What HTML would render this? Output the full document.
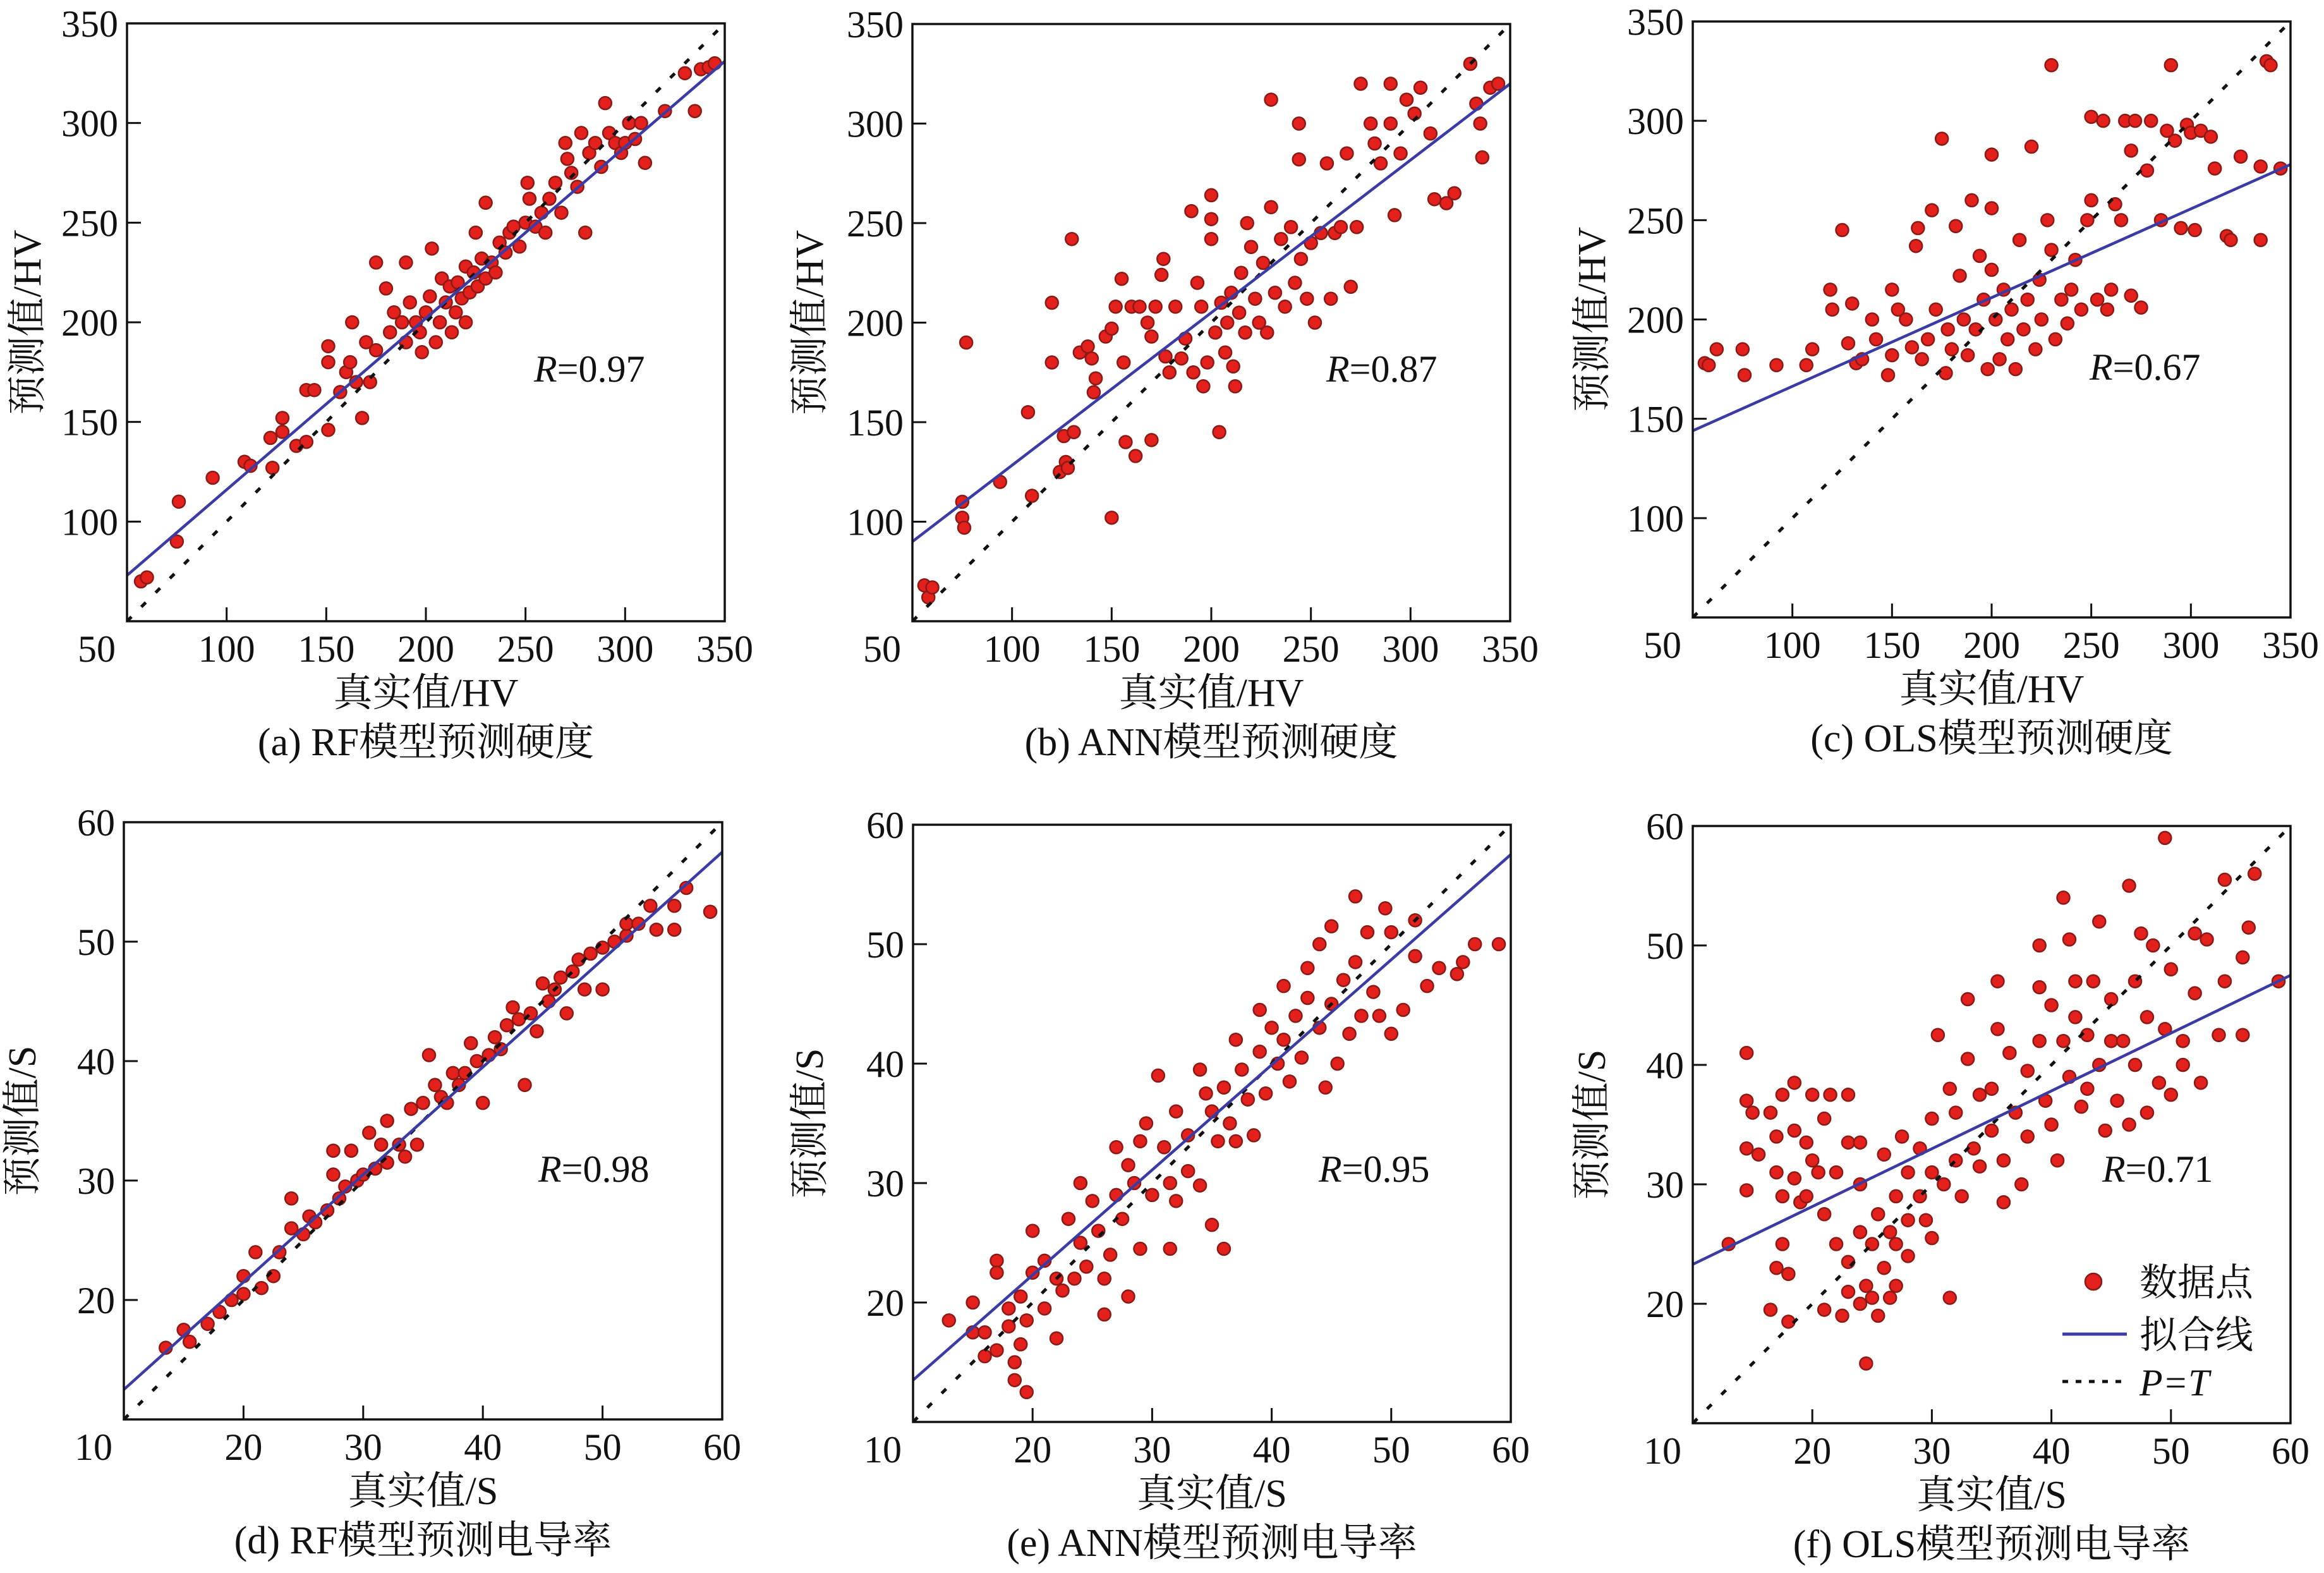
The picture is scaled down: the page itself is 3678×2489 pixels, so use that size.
<!DOCTYPE html>
<html><head><meta charset="utf-8"><style>
html,body{margin:0;padding:0;background:#fff;}
svg{display:block;}
text{font-family:"Liberation Serif","Noto Serif CJK SC",serif;fill:#111;}
</style></head><body>
<svg id="fig" width="3678" height="2489" viewBox="0 0 3678 2489" xmlns="http://www.w3.org/2000/svg"></svg>
<script>
// ---- data (a) RF hardness ----
const aX=[57,60,75,76,93,109,112,123,122,128,128,135,140,140,144,151,151,151,157,160,162,165,163,168,170,172,175,175,180,182,184,188,190,190,192,195,197,198,200,202,203,205,207,208,210,212,213,215,216,218,220,220,222,224,225,226,228,230,230,233,235,237,240,242,244,247,250,251,252,255,258,260,262,265,268,270,271,273,276,278,280,282,285,288,290,292,295,298,300,302,305,308,310,320,330,335,338,342,345];
const aY=[70,72,90,110,122,130,128,127,142,145,152,138,140,166,166,146,180,188,165,175,180,170,200,152,190,170,186,230,217,195,205,200,230,190,210,200,195,185,205,213,237,190,200,222,210,218,195,205,220,212,200,228,215,225,245,218,232,260,222,230,225,240,235,245,248,238,250,270,262,248,255,245,262,270,255,290,282,275,268,295,245,285,290,278,310,295,290,285,290,300,292,300,280,306,325,306,327,328,330];
// ---- (b) ANN hardness ----
const bX=[56,58,60,75,75,76,77,94,108,110,120,120,124,126,127,128,130,131,134,138,140,141,142,147,150,150,152,155,156,157,160,162,164,168,170,170,172,175,176,177,179,182,185,187,190,191,193,195,196,198,200,200,200,202,204,205,207,208,210,211,212,214,215,217,218,220,222,224,226,228,230,230,232,235,237,240,242,244,244,245,248,250,252,255,258,260,262,265,268,270,273,275,280,282,285,290,290,292,295,298,302,305,310,312,318,322,330,333,335,336,340,344];
const bY=[68,62,67,110,102,97,190,120,155,113,210,180,125,143,130,127,242,145,185,188,182,165,172,193,102,197,208,222,180,140,208,133,208,200,193,141,208,224,232,183,175,208,182,192,256,175,220,208,168,180,264,252,242,195,145,210,185,200,215,178,168,205,225,195,250,238,212,200,230,195,312,258,215,242,208,248,220,300,282,232,212,240,200,245,280,212,245,248,285,218,248,320,300,290,280,300,320,254,285,312,305,318,295,262,260,265,330,310,300,283,318,320];
// ---- (c) OLS hardness ----
const cX=[56,58,62,75,76,92,107,110,119,120,125,128,130,132,135,140,142,148,150,150,153,157,160,162,163,165,168,170,172,175,177,178,180,182,184,186,188,190,192,194,196,198,200,200,200,202,204,206,208,210,212,214,216,218,220,222,224,225,228,230,230,232,235,238,240,242,245,248,250,250,253,256,258,260,262,265,267,270,270,272,275,278,280,285,288,290,292,295,298,300,302,305,310,312,318,320,325,335,335,338,340,345];
const cY=[178,177,185,185,172,177,177,185,215,205,245,188,208,178,180,200,190,172,215,182,205,200,186,237,246,180,190,255,205,291,173,195,185,247,222,200,182,260,195,232,210,175,283,256,225,200,180,215,190,205,175,240,195,210,287,185,220,200,250,328,235,190,210,198,215,230,205,250,260,302,210,300,205,215,258,250,300,285,212,300,206,275,300,250,295,328,290,246,298,294,245,295,292,276,242,240,282,240,277,330,328,276];
// ---- (d) RF conductivity ----
const dX=[13.5,15,15.5,17,18,19,20,20,21,21.5,22.5,23,24,24,25,25.5,26,27,27.5,27.5,28,28.5,29,29.5,30,30.5,31,31.5,32,32,33,33.5,34,34.5,35,35.5,36,36.5,37,37.5,38,38.5,39,39.5,40,40.5,41,41.5,42,42.5,43,43.5,44,44.5,45,45.5,46,46.5,47,47.5,48,48.5,49,50,50,51,52,52,53,54,54.5,56,56,57,59];
const dY=[16,17.5,16.5,18,19,20,22,20.5,24,21,22,24,28.5,26,25.5,27,26.5,27.5,32.5,30.5,28.5,29.5,32.5,30,30.5,34,31,33,35,31.5,33,32,36,33,36.5,40.5,38,37,36.5,39,38,39,41.5,40,36.5,40.5,42,41,43,44.5,43.5,38,44,42.5,46.5,45,46,47,44,47.5,48.5,46,49,46,49.5,50,50.5,51.5,51.5,53,51,53,51,54.5,52.5];
// ---- (e) ANN conductivity ----
const eX=[13,15,15,16,16,17,17,17,18,18,18.5,18.5,19,19,19.5,19.5,20,20,21,21,22,22,22.5,23,23.5,24,24,24.5,25,25.5,26,26,26.5,27,27,27.5,28,28,28.5,29,29,29.5,30,30.5,31,31.5,31.5,32,32,33,33,34,34,34.5,35,35,35.5,36,36,36.5,37,37,37.5,38,38.5,39,39,39.5,40,40.5,41,41,41.5,42,42.5,43,43,44,44,44.5,45,45,45.5,46,46.5,47,47,47.5,48,48.5,49,49.5,50,50,51,52,52,53,54,55.5,56,57,59];
const eY=[18.5,20,17.5,17.5,15.5,16,23.5,22.5,19.5,18,15,13.5,20.5,16.5,12.5,18.5,26,22.5,23.5,19.5,22,17,21,27,22,30,25,23,28.5,26,19,22,24,33,29,27,20.5,31.5,30,24.5,33.5,35,29,39,33,24.5,30,36,28.5,34,31,29.8,39.5,37.5,26.5,36,33.5,24.5,38,35,42,33.5,39.5,37,34,41,44.5,37.5,43,40,46.5,42,38.5,44,40.5,48,45.5,43,50,38,51.5,45,40,47,42.5,54,48.5,44,51,46,44,53,42.5,51,44.5,49,52,46.5,48,47.5,48.5,50,50];
// ---- (f) OLS conductivity ----
const fX=[13,14.5,14.5,14.5,14.5,15,15.5,16.5,16.5,17,17,17,17.5,17.5,17.5,18,18,18.5,18.5,18.5,19,19.5,19.5,20,20,20.5,21,21,21,21.5,22,22,22.5,23,23,23,23,24,24,24,24,24.5,24.5,25,25,25.5,25.5,26,26,26.5,26.5,27,27,27,27.5,28,28,28,29,29,29.5,30,30,30,30.5,31,31.5,31.5,32,32,32.5,33,33,33.5,34,34,35,35,35.5,35.5,36,36,36.5,37,37.5,38,38,39,39,39,39.5,40,40,40.5,41,41,41.5,41.5,42,42,42.5,43,43,43.5,44,44,44.5,45,45,45.5,46,46.5,46.5,47,47,47.5,48,48,48.5,49,49.5,49.5,50,50,51,51,52,52,52.5,53,54,54.5,54.5,56,56,56.5,57,59];
const fY=[25,41,37,33,29.5,36,32.5,36,19.5,34,31,23,37.5,29,25,22.5,18.5,38.5,34.5,30.5,28.5,33.5,29,37.5,32,31,35.5,27.5,19.5,37.5,31,25,19,23.5,21,33.5,37.5,33.5,30,26,20,21.5,15,25,20.5,27.5,19,23,32.5,26,20.5,29,25,21.5,34,31,27,24,33,29,27,35.5,31,25.5,42.5,30,38,20.5,36,32,29,40.5,45.5,33,37.5,31.5,38,34.5,47,43,32,28.5,41,36,30,39.5,34,50,46.5,42,37,45,35,32,54,42,50.5,39,47,44,36.5,42.5,38,47,52,40,34.5,45.5,42,37,42,55,35,47,40,51,44,36,50,38.5,59,43,48,37.5,42,40,51,46,38.5,50.5,42.5,55.5,47,42.5,49,51.5,56,47];

// ---- fit lines: [y at xmin, y at xmax] ----
const aFit=[73,331], bFit=[90,320], cFit=[144,278], dFit=[12.5,57.5], eFit=[13.5,57.5], fFit=[23.3,47.5];
const hardTicks=[50,100,150,200,250,300,350];
const condTicks=[10,20,30,40,50,60];
const rLabels=["0.97","0.87","0.67","0.98","0.95","0.71"];

const panels=[
 {id:'a',L:201,T:37,R:1147,B:983,xs:aX,ys:aY,fit:aFit,ticks:hardTicks,unit:'HV',cap:'(a) RF模型预测硬度',rx:845,ry:604,yt:44},
 {id:'b',L:1444,T:38,R:2390,B:983,xs:bX,ys:bY,fit:bFit,ticks:hardTicks,unit:'HV',cap:'(b) ANN模型预测硬度',rx:2099,ry:604,yt:1282},
 {id:'c',L:2679,T:34,R:3625,B:977,xs:cX,ys:cY,fit:cFit,ticks:hardTicks,unit:'HV',cap:'(c) OLS模型预测硬度',rx:3307,ry:601,yt:2520},
 {id:'d',L:196,T:1301,R:1143,B:2246,xs:dX,ys:dY,fit:dFit,ticks:condTicks,unit:'S',cap:'(d) RF模型预测电导率',rx:852,ry:1870,yt:36},
 {id:'e',L:1445,T:1305,R:2391,B:2250,xs:eX,ys:eY,fit:eFit,ticks:condTicks,unit:'S',cap:'(e) ANN模型预测电导率',rx:2087,ry:1870,yt:1282},
 {id:'f',L:2679,T:1307,R:3625,B:2252,xs:fX,ys:fY,fit:fFit,ticks:condTicks,unit:'S',cap:'(f) OLS模型预测电导率',rx:3327,ry:1870,yt:2520}
];
const NS='http://www.w3.org/2000/svg';
const svg=document.getElementById('fig');
function mk(tag,attrs,parent,txt){const e=document.createElementNS(NS,tag);for(const k in attrs)e.setAttribute(k,attrs[k]);if(txt!==undefined)e.textContent=txt;parent.appendChild(e);return e;}

panels.forEach((p,pi)=>{
  const g=mk('g',{},svg);
  
  
  const lo=p.ticks[0], hi=p.ticks[p.ticks.length-1];
  const sx=v=>p.L+(v-lo)/(hi-lo)*(p.R-p.L);
  const sy=v=>p.B-(v-lo)/(hi-lo)*(p.B-p.T);
  const defs=mk('defs',{},g);
  const cp=mk('clipPath',{id:'clip'+p.id},defs);
  mk('rect',{x:p.L,y:p.T,width:p.R-p.L,height:p.B-p.T},cp);
  const plot=mk('g',{'clip-path':'url(#clip'+p.id+')'},g);
  const pts=mk('g',{},plot);
  
  
  for(let i=0;i<p.xs.length;i++){
    const c=mk('circle',{cx:sx(p.xs[i]),cy:sy(p.ys[i]),r:10,fill:'#e3201c',stroke:'#8a1a16','stroke-width':2.5},pts);
    
    
  }
  const d=mk('line',{x1:sx(lo),y1:sy(lo),x2:sx(hi),y2:sy(hi),stroke:'#111','stroke-width':5,'stroke-dasharray':'10 22'},plot);
  
  
  const f=mk('line',{x1:sx(lo),y1:sy(p.fit[0]),x2:sx(hi),y2:sy(p.fit[1]),stroke:'#3b3ba6','stroke-width':4.5},plot);
  
  
  const fr=mk('rect',{x:p.L,y:p.T,width:p.R-p.L,height:p.B-p.T,fill:'none',stroke:'#111','stroke-width':3.5},g);
  
  
  p.ticks.forEach((t,ti)=>{
    if(ti>0 && ti<p.ticks.length-1){
      mk('line',{x1:sx(t),y1:p.B,x2:sx(t),y2:p.B-22,stroke:'#111','stroke-width':3},g);
      mk('line',{x1:p.L,y1:sy(t),x2:p.L+22,y2:sy(t),stroke:'#111','stroke-width':3},g);
    }
    const xl=mk('text',{x:ti===0?sx(t)-48:sx(t),y:p.B+64,'font-size':60,'text-anchor':'middle'},g,String(t));
    
    
    if(ti>0){
      const yl=mk('text',{x:p.L-14,y:sy(t)+21,'font-size':60,'text-anchor':'end'},g,String(t));
      
      
    }
  });
  const cx=(p.L+p.R)/2;
  const xt=mk('text',{x:cx,y:p.B+134,'font-size':62,'text-anchor':'middle'},g,'真实值/'+p.unit);
  
  
  const cy=(p.T+p.B)/2;
  const yt=mk('text',{x:p.yt,y:cy,'font-size':62,'text-anchor':'middle',transform:'rotate(-90 '+p.yt+' '+cy+')','dominant-baseline':'central'},g,'预测值/'+p.unit);
  
  
  const cap=mk('text',{x:cx,y:p.B+212,'font-size':62,'text-anchor':'middle'},g,p.cap);
  
  
  const r=mk('text',{x:p.rx,y:p.ry,'font-size':60},g);
  
  
  mk('tspan',{'font-style':'italic'},r,'R');
  mk('tspan',{},r,'='+rLabels[pi]);
});
const lg=mk('g',{},svg);


mk('circle',{cx:3313,cy:2028,r:13,fill:'#e3201c',stroke:'#8a1a16','stroke-width':2.5},lg);
const l1=mk('text',{x:3386,y:2050,'font-size':60},lg,'数据点');


mk('line',{x1:3264,y1:2111,x2:3366,y2:2111,stroke:'#3b3ba6','stroke-width':5},lg);
const l2=mk('text',{x:3386,y:2133,'font-size':60},lg,'拟合线');


mk('line',{x1:3264,y1:2186,x2:3366,y2:2186,stroke:'#111','stroke-width':5,'stroke-dasharray':'9 12'},lg);
const l3=mk('text',{x:3386,y:2208,'font-size':60,'font-style':'italic'},lg,'P=T');


</script>
</body></html>
